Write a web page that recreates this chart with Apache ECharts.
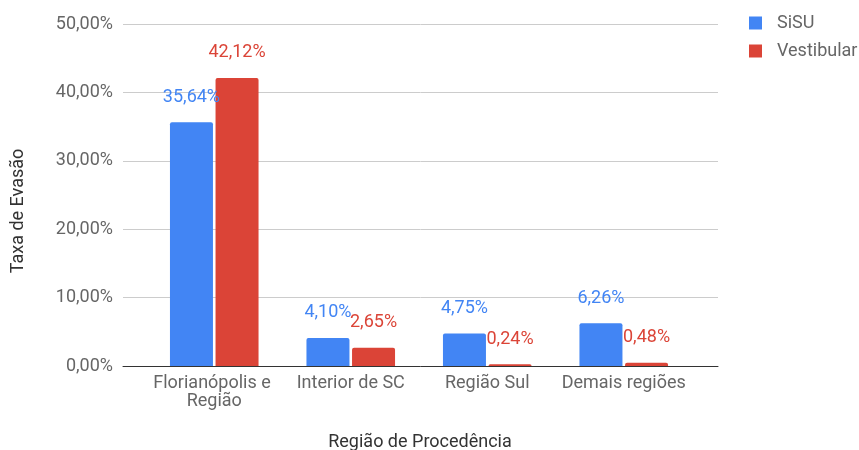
<!DOCTYPE html>
<html><head><meta charset="utf-8">
<script src="https://cdn.jsdelivr.net/npm/echarts@6/dist/echarts.min.js"></script>
<style>html,body{margin:0;padding:0;background:#fff}#c{width:859px;height:450px}</style>
</head><body><div id="c"></div>
<script>
const categories = ["Florianópolis e Região", "Interior de SC", "Região Sul", "Demais regiões"];
const sisu = [35.64, 4.10, 4.75, 6.26];
const vestibular = [42.12, 2.65, 0.24, 0.48];
const seriesNames = ["SiSU", "Vestibular"];
const yTicks = {min: 0, max: 50, interval: 10};
const xTitle = 'Região de Procedência';
const yTitle = 'Taxa de Evasão';

const fmt = v => v.toFixed(2).replace('.', ',') + '%';
const font = 'Roboto';
const FS = 18;
const chart = echarts.init(document.getElementById('c'));
function mk(name, data, color) {
  return {
    name, type: 'bar', data, barWidth: 43, barGap: '6%', xAxisIndex: 1, yAxisIndex: 1,
    itemStyle: {color, borderRadius: [2, 2, 0, 0]},
    label: {show: true, position: 'top', distance: 16, color, fontFamily: font, fontSize: FS,
      formatter: p => fmt(p.value)}
  };
}
chart.setOption({
  animation: false,
  textStyle: {fontFamily: font},
  grid: [
    {left: 123, right: 141, top: 24, bottom: 84, outerBoundsMode: 'none', containLabel: false},
    {left: 146, right: 167, top: 24, bottom: 84, outerBoundsMode: 'none', containLabel: false}
  ],
  legend: {orient: 'vertical', left: 749, top: 14, padding: 0, itemWidth: 13, itemHeight: 13, itemGap: 10,
    icon: 'rect', textStyle: {fontFamily: font, fontSize: FS, color: '#666', padding: [0, 0, 0, 10]}},
  xAxis: [
    {type: 'value', gridIndex: 0, min: 0, max: 1, axisLabel: {show: false}, axisTick: {show: false},
      splitLine: {show: false}, axisLine: {show: true, lineStyle: {color: '#333', width: 1}}},
    {type: 'category', gridIndex: 1, data: categories,
      axisLine: {show: false}, axisTick: {show: false},
      axisLabel: {interval: 0, color: '#666', fontFamily: font, fontSize: FS, margin: 8, width: 140, overflow: 'break', lineHeight: 18}}
  ],
  yAxis: [
    {type: 'value', gridIndex: 0, min: yTicks.min, max: yTicks.max, interval: yTicks.interval,
      axisLine: {show: false}, axisTick: {show: false},
      axisLabel: {color: '#666', fontFamily: font, fontSize: FS, margin: 10, formatter: fmt},
      splitLine: {lineStyle: {color: '#ccc'}}},
    {type: 'value', gridIndex: 1, min: yTicks.min, max: yTicks.max, interval: yTicks.interval,
      show: false, splitLine: {show: false}}
  ],
  graphic: [
    {type: 'text', x: 18, y: 211, rotation: Math.PI / 2,
      style: {text: yTitle, fontFamily: font, fontSize: FS, fill: '#333', align: 'center', verticalAlign: 'middle'}},
    {type: 'text', x: 420, y: 442,
      style: {text: xTitle, fontFamily: font, fontSize: FS, fill: '#333', align: 'center', verticalAlign: 'middle'}}
  ],
  series: [mk(seriesNames[0], sisu, '#4285F4'), mk(seriesNames[1], vestibular, '#DB4437')]
});
</script></body></html>
